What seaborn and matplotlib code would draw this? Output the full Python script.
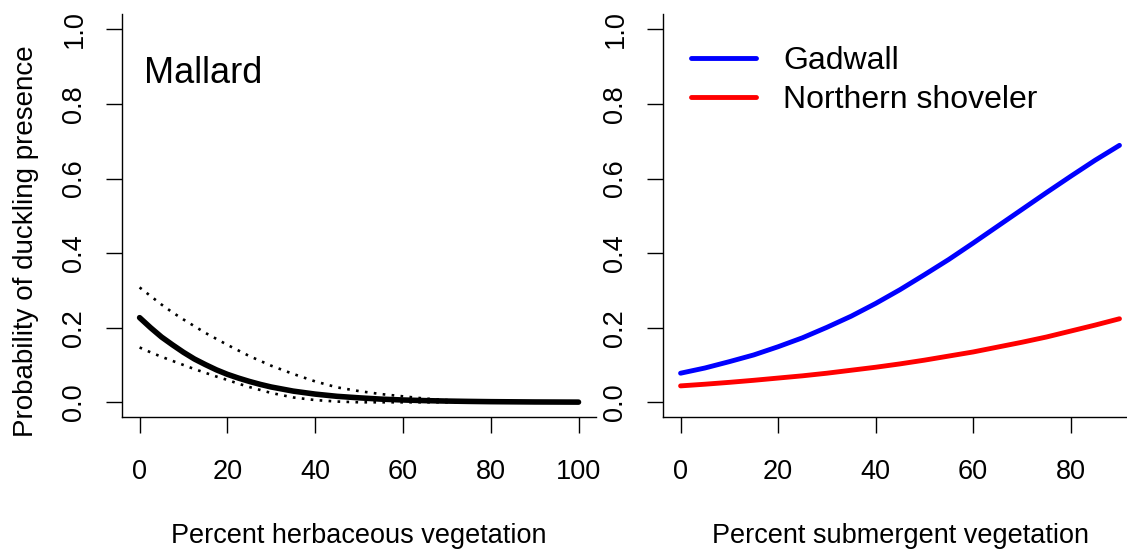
import pandas as pd
import matplotlib
matplotlib.use("Agg")
import matplotlib.pyplot as plt
import seaborn as sns

# values
herb_pct = [0, 2.5, 5, 7.5, 10, 12.5, 15, 17.5, 20, 22.5, 25, 27.5, 30, 35, 40, 45, 50,
            55, 60, 65, 70, 75, 80, 85, 90, 95, 100]
mallard_fit = [0.227, 0.200, 0.175, 0.154, 0.134, 0.116, 0.101, 0.087, 0.075, 0.065, 0.056, 0.048,
               0.041, 0.030, 0.022, 0.016, 0.012,
               0.0085, 0.0062, 0.0045, 0.0033, 0.0024, 0.0017, 0.0013, 0.0009, 0.0007, 0.0005]
mallard_upper = [0.308, 0.285, 0.262, 0.241, 0.222, 0.204, 0.186, 0.170, 0.154, 0.139, 0.124, 0.111,
                 0.098, 0.076, 0.056, 0.040, 0.030,
                 0.022, 0.016, 0.010, 0.006, 0.004, 0.002, 0.001, 0.001, 0.0005, 0.0003]
mallard_lower = [0.147, 0.134, 0.122, 0.111, 0.100, 0.089, 0.079, 0.069, 0.060, 0.050, 0.041, 0.033,
                 0.025, 0.013, 0.006, 0.002, 0.0,
                 0.0, 0.0, 0.0, 0.0, 0.0, 0.0, 0.0, 0.0, 0.0, 0.0]

sub_pct = [0, 5, 10, 15, 20, 25, 30, 35, 40, 45, 50, 55, 60, 65, 70, 75, 80, 85, 90]
gadwall = [0.078, 0.092, 0.109, 0.127, 0.149, 0.173, 0.201, 0.231, 0.265, 0.302,
           0.342, 0.383, 0.427, 0.472, 0.517, 0.562, 0.606, 0.649, 0.689]
shoveler = [0.044, 0.0485, 0.0535, 0.059, 0.065, 0.071, 0.078, 0.086, 0.094, 0.103,
            0.113, 0.124, 0.135, 0.148, 0.161, 0.175, 0.191, 0.207, 0.224]

y_ticks = [0.0, 0.2, 0.4, 0.6, 0.8, 1.0]
y_ticklabels = ["0.0", "0.2", "0.4", "0.6", "0.8", "1.0"]
herb_ticks = [0, 20, 40, 60, 80, 100]
sub_ticks = [0, 20, 40, 60, 80]

sns.set_theme(style="ticks")
plt.rcParams["font.family"] = ["Liberation Sans", "DejaVu Sans"]
plt.rcParams["text.color"] = "black"
plt.rcParams["axes.labelcolor"] = "black"

fig = plt.figure(figsize=(11.27, 5.51), dpi=100)
ax1 = fig.add_axes([0.1083, 0.2428, 0.4206, 0.731])
ax2 = fig.add_axes([0.5883, 0.2428, 0.4206, 0.731])

mallard = pd.DataFrame({"pct": herb_pct, "fit": mallard_fit,
                        "upper": mallard_upper, "lower": mallard_lower})
subm = pd.DataFrame({"pct": sub_pct, "Gadwall": gadwall, "Northern shoveler": shoveler})

# left panel: mallard with confidence band
dots = (0, (1, 2.4))
sns.lineplot(data=mallard, x="pct", y="upper", ax=ax1, color="black", linewidth=1.9, linestyle=dots)
sns.lineplot(data=mallard, x="pct", y="lower", ax=ax1, color="black", linewidth=1.9, linestyle=dots)
sns.lineplot(data=mallard, x="pct", y="fit", ax=ax1, color="black", linewidth=4.0,
             solid_capstyle="round")
ax1.text(1, 0.857, "Mallard", fontsize=26, ha="left", va="baseline", color="black")

# right panel: gadwall and shoveler
sns.lineplot(data=subm, x="pct", y="Gadwall", ax=ax2, color="#0000ff", linewidth=3.5,
             solid_capstyle="round", label="Gadwall")
sns.lineplot(data=subm, x="pct", y="Northern shoveler", ax=ax2, color="#ff0000", linewidth=3.5,
             solid_capstyle="round", label="Northern shoveler")
leg = ax2.legend(loc="upper left", bbox_to_anchor=(0.0584, 0.922), frameon=False,
                 fontsize=23, handlelength=2.03, handletextpad=0.87, labelspacing=0.3,
                 borderpad=0, borderaxespad=0, labelcolor="black")
for ln in leg.get_lines():
    ln.set_linewidth(3.5)

for ax, ticks, xmax in [(ax1, herb_ticks, 100), (ax2, sub_ticks, 90)]:
    ax.set_xlim(-0.04 * xmax, 1.04 * xmax)
    ax.set_ylim(-0.04, 1.04)
    ax.set_xticks(ticks)
    ax.set_xticklabels([str(t) for t in ticks])
    ax.set_yticks(y_ticks)
    ax.set_yticklabels(y_ticklabels)
    ax.tick_params(axis="both", direction="out", length=11.5, width=1.0, color="black",
                   labelsize=19.5, labelcolor="black")
    ax.tick_params(axis="x", pad=18.3)
    ax.tick_params(axis="y", pad=13.4, labelrotation=90)
    plt.setp(ax.get_yticklabels(), va="center")
    sns.despine(ax=ax)
    for s in ["left", "bottom"]:
        ax.spines[s].set_linewidth(1.0)
        ax.spines[s].set_color("black")
    ax.set_ylabel("")

ax1.set_xlabel("Percent herbaceous vegetation", fontsize=19.5)
ax2.set_xlabel("Percent submergent vegetation", fontsize=19.5)
ax1.xaxis.set_label_coords(0.5, -0.2634)
ax2.xaxis.set_label_coords(0.5, -0.2634)
ax1.set_ylabel("Probability of duckling presence", fontsize=20)
ax1.yaxis.set_label_coords(-0.1757, 0.4374)

fig.savefig("out.png", dpi=100, facecolor="white")
